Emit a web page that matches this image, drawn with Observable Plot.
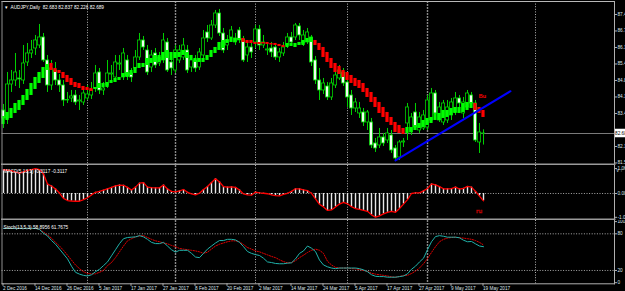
<!DOCTYPE html>
<html><head><meta charset="utf-8">
<script src="https://cdn.jsdelivr.net/npm/d3@7"></script>
<script src="https://cdn.jsdelivr.net/npm/@observablehq/plot@0.6"></script>
<style>
html,body{margin:0;padding:0;background:#000;}
#chart{position:relative;width:625px;height:291px;background:#000;overflow:hidden;}
#chart svg{display:block;}
</style></head><body><div id="chart"></div>
<script>
// ---- Data (AUDJPY Daily, 2 Dec 2016 .. 19 May 2017) ----
const openP = [83.61,83.29,84.65,84.81,84.89,84.81,85.53,85.89,86.09,86.21,
86.53,85.61,84.61,85.21,84.81,84.61,84.03,84.09,84.21,83.97,
83.93,84.09,84.21,84.49,85.13,84.41,84.61,85.05,84.93,85.45,
84.93,85.61,85.09,85.29,85.73,86.41,86.01,85.33,85.89,85.49,
85.61,86.33,85.53,85.21,85.61,85.73,86.01,85.33,85.61,85.33,
85.81,86.73,86.49,87.01,87.49,86.69,86.21,86.53,86.33,86.81,
86.45,85.81,86.13,86.33,86.85,86.21,86.01,86.09,86.13,85.73,
85.89,86.21,86.53,86.53,86.97,86.29,86.33,86.53,85.61,84.81,
84.41,84.57,84.13,84.61,84.89,85.13,84.73,84.21,83.69,83.49,
83.53,83.13,83.13,82.29,82.21,82.53,82.41,82.61,82.09,81.73,
82.33,83.09,82.73,83.53,82.81,82.89,82.93,83.21,84.29,83.21,
83.13,83.21,83.41,83.53,84.09,83.49,83.73,84.21,83.89,82.33,
82.683];
const highP = [83.85,85.13,85.21,85.89,85.21,86.21,86.29,86.41,86.61,87.05,
86.69,85.81,85.61,85.53,85.05,84.81,84.33,84.41,84.41,84.21,
84.49,84.61,84.73,85.41,85.29,84.73,85.61,85.41,85.81,85.81,
86.09,85.81,85.29,86.01,86.69,86.57,86.21,86.01,86.09,85.93,
86.69,86.49,85.81,86.21,86.21,86.49,86.21,85.81,85.81,86.09,
86.81,87.01,87.21,87.61,87.65,86.89,86.61,86.97,86.69,86.93,
86.57,86.33,86.29,87.01,87.01,86.61,86.25,86.33,86.29,86.09,
86.33,86.69,86.73,87.09,87.09,86.81,86.89,86.61,85.77,85.29,
84.89,84.73,84.89,85.21,85.41,85.29,84.89,84.41,84.09,83.93,
83.69,83.61,83.29,82.49,82.89,82.69,82.89,82.81,82.21,82.41,
82.49,83.89,83.49,83.89,83.53,83.61,84.21,84.49,84.41,83.93,
84.01,84.01,84.09,84.33,84.21,84.13,84.41,84.33,84.01,83.09,
82.837];
const lowP = [82.89,83.05,84.33,84.57,84.49,84.65,85.37,85.69,85.81,86.09,
85.53,84.33,84.41,84.61,84.33,83.77,83.89,83.93,83.81,83.61,
83.81,84.01,84.05,84.33,84.25,84.21,84.49,84.81,84.81,85.21,
84.81,84.81,84.73,85.13,85.61,86.01,85.01,85.13,85.29,85.37,
85.49,85.13,85.01,85.09,85.49,85.61,85.09,85.13,85.13,85.21,
85.61,86.33,86.41,86.89,86.57,85.89,86.01,86.33,86.21,86.29,
85.53,85.53,85.69,86.09,86.01,86.09,85.81,85.73,85.61,85.53,
85.77,86.09,86.21,86.41,86.41,86.17,86.25,85.37,84.65,84.01,
84.25,84.01,84.01,84.49,84.81,84.57,83.73,83.41,83.53,83.29,
82.97,82.81,82.09,81.93,82.09,82.17,82.29,81.89,81.61,81.61,
82.13,82.41,82.61,82.81,82.69,82.81,82.81,83.13,83.37,83.13,
83.01,83.09,83.21,83.41,83.69,83.29,83.61,83.77,82.33,81.89,
82.226];
const closeP = [83.29,84.65,84.81,85.13,84.85,85.49,85.89,86.01,86.41,86.53,
85.61,84.61,85.29,84.81,84.61,84.01,84.01,84.17,83.93,84.01,
84.29,84.25,84.41,85.09,84.41,84.49,85.09,85.09,85.53,85.49,
85.89,84.97,84.93,85.73,86.41,86.13,85.13,85.81,85.41,85.73,
86.41,85.21,85.29,86.01,86.01,86.21,85.21,85.61,85.29,85.93,
86.49,86.49,87.01,87.49,86.69,86.01,86.41,86.81,86.49,86.41,
85.61,86.13,85.93,86.85,86.21,86.33,86.05,85.93,85.73,85.93,
86.13,86.53,86.33,87.01,86.61,86.61,86.73,85.53,84.81,84.41,
84.69,84.13,84.69,85.01,85.21,84.69,84.13,83.69,83.93,83.69,
83.13,83.53,82.21,82.09,82.53,82.29,82.69,82.01,81.69,82.33,
82.37,83.73,83.33,82.93,83.33,83.41,84.01,84.29,83.49,83.73,
83.89,83.73,83.93,84.09,83.89,83.93,84.29,83.89,82.41,82.73,
82.689];
// Heiken Ashi overlay bodies (open / close)
const haOpen = [83.05,83.21,83.29,83.49,83.61,83.81,84.01,84.21,84.45,84.69,
84.89,85.21,85.49,85.29,85.21,85.13,85.01,84.89,84.73,84.69,
84.57,84.53,84.49,84.45,84.49,84.53,84.53,84.69,84.73,84.81,
84.93,84.93,85.01,85.09,85.29,85.33,85.41,85.49,85.53,85.53,
85.61,85.69,85.61,85.69,85.73,85.81,85.69,85.61,85.53,85.53,
85.53,85.61,85.73,85.89,86.01,86.09,86.29,86.33,86.33,86.41,
86.49,86.41,86.41,86.33,86.33,86.33,86.33,86.29,86.29,86.25,
86.21,86.13,86.17,86.13,86.21,86.21,86.33,86.33,86.41,86.29,
86.13,85.93,85.69,85.49,85.37,85.21,85.13,85.01,84.89,84.81,
84.69,84.49,84.33,84.13,83.93,83.73,83.53,83.33,83.13,83.01,
82.89,82.69,82.73,82.81,82.89,82.93,83.01,83.09,83.21,83.21,
83.29,83.33,83.41,83.49,83.49,83.53,83.61,83.69,83.89,83.73,
83.61];
const haClose = [83.37,83.53,83.69,83.89,84.01,84.21,84.45,84.69,84.93,85.13,
85.33,85.45,85.21,85.13,85.09,84.89,84.73,84.61,84.53,84.49,
84.41,84.41,84.37,84.53,84.69,84.69,84.73,84.81,84.89,84.93,
85.09,85.13,85.21,85.33,85.49,85.49,85.69,85.69,85.81,85.81,
85.93,86.01,85.93,85.93,85.93,86.01,85.93,85.81,85.69,85.69,
85.69,85.81,86.01,86.13,86.33,86.41,86.45,86.53,86.49,86.49,
86.33,86.29,86.29,86.25,86.25,86.27,86.25,86.23,86.21,86.17,
86.13,86.29,86.29,86.29,86.33,86.41,86.49,86.53,86.21,86.01,
85.73,85.53,85.29,85.13,85.05,84.93,84.81,84.69,84.57,84.49,
84.33,84.13,83.93,83.73,83.49,83.33,83.13,83.01,82.73,82.69,
82.65,82.93,82.93,83.01,83.09,83.21,83.29,83.33,83.49,83.49,
83.61,83.61,83.69,83.73,83.73,83.89,83.93,83.93,83.61,83.49,
83.33];
const macdValues = [1.01,0.99,0.97,0.91,0.87,0.92,0.98,1.02,1.06,1.02,
0.83,0.40,0.32,0.19,0.02,-0.21,-0.30,-0.32,-0.33,-0.33,
-0.26,-0.18,-0.06,0.05,0.09,0.14,0.20,0.26,0.32,0.36,
0.35,0.26,0.15,0.27,0.44,0.46,0.27,0.25,0.24,0.24,
0.36,0.19,0.09,0.07,0.11,0.17,0.05,-0.02,-0.06,0.01,
0.17,0.30,0.47,0.63,0.49,0.29,0.27,0.28,0.26,0.15,
-0.02,-0.06,-0.07,0.06,0.03,0.01,-0.01,-0.06,-0.09,-0.10,
-0.04,0.01,0.09,0.20,0.20,0.15,0.12,0.01,-0.23,-0.46,
-0.57,-0.72,-0.70,-0.57,-0.45,-0.38,-0.44,-0.56,-0.64,-0.68,
-0.72,-0.76,-0.91,-1.01,-0.95,-0.87,-0.80,-0.76,-0.80,-0.64,
-0.45,-0.26,0.00,0.03,0.03,0.11,0.21,0.41,0.37,0.29,
0.20,0.20,0.21,0.27,0.19,0.22,0.30,0.27,0.09,-0.11,
-0.3117];
const stochMain = [89,89,89,89,89,89,89,89,89,87,
81,76.5,69,63,55,47,39,27,17,14,
12,11,13,18,22,28,34,44,54,64,
72,74,74.5,75,77,75,71,66,64,64,
66,60,54,50,53,53,53,48,42,41,
48,55,60,65,69,69,71,71,70,66,
59,51,48,46,44.5,40,34,33,31.5,31,
31,32,32.5,39,48,52,60,56.5,51,37,
29,26,24,23,24,24,24,24,24,23,
21,18,13,10.5,10,10,9,9,9,10,
11,14.5,22,27,34,40,54,67,75.5,77,
76,74.5,74.5,74.5,73.5,69.5,67,67.5,63.6,60,
58.8956];
const stochSignal = [89,89,89,89,89,89,89,89,89,87,
83,78,73,66,60,53,45,37,29,23,
18,15,14.5,14.5,17,20,28,33,41,50.5,
60,68.5,72,75,76.5,77,74,71,68.5,67,
65,63.6,61,59,56,55,54,53,52,50.5,
48,50,55,60,63,65,67,68.5,68.5,67,
62.5,57.5,55,52,50.5,48,45.5,43,41,37.5,
34.5,32.5,33,36,41,45,49.5,53,55,53,
48,35,29,25,24,24,24,23,22.7,21.6,
20,18.3,15.5,14,13,12,11,9.5,9,10,
12,12,15,19,24,31,39.5,49.5,59,67,
71,73,74,74.5,73.5,73,72,71,69,66,
61.7675];
const dateIdx = [0,8,16,24,32,40,48,56,64,72,80,88,96,104,112,120];
const dateLabels = ["2 Dec 2016","14 Dec 2016","26 Dec 2016","5 Jan 2017","17 Jan 2017","27 Jan 2017","8 Feb 2017","20 Feb 2017","2 Mar 2017","14 Mar 2017","24 Mar 2017","5 Apr 2017","17 Apr 2017","27 Apr 2017","9 May 2017","19 May 2017"];
const monthStartsLight = [21,63,86,133];
const monthStartsDark = [43,106];
const priceTicks = [87.450,86.790,86.130,85.470,84.810,84.150,83.490,82.170,81.510];
const macdTicks = [1.0616,0,-1.0129];
const macdTickLabels = ["1.0616","0.0000","-1.0129"];
const stochTicks = [100,80,20,0];
const stochLevels = [80,20];
const lastPrice = 82.689;
const trendIdx = [98,126.75];
const trendPrice = [81.61,84.38];
const signalIdx = [119.75];
const signalPrice = [84.17];
const signalText = ["Bu"];
const macdSignalIdx = [118.9];
const macdSignalValue = [-0.74];
const macdSignalText = ["ru"];
const headerText = "AUDJPY,Daily  82.683 82.837 82.226 82.689";
const macdText = "MACD(5,13,1) -0.3117 -0.3117";
const stochText = "Stoch(13,5,3) 58.8956 61.7675";

// ---- Build ----
const N = closeP.length;
const bars = d3.range(N).map(i => ({i, o:openP[i], h:highP[i], l:lowP[i], c:closeP[i], ho:haOpen[i], hc:haClose[i]}));
const trend = trendIdx.map((x,k)=>({i:x, p:trendPrice[k]}));
const signals = signalIdx.map((x,k)=>({i:x, p:signalPrice[k], t:signalText[k]}));
const macdSignals = macdSignalIdx.map((x,k)=>({i:x, v:macdSignalValue[k], t:macdSignalText[k]}));
const font = "'Liberation Sans', Arial, sans-serif";
const txt = "#dde4ec";
const FS = 4.7;
const style = {background:"transparent", color:txt, fontFamily:font, fontSize:FS+"px"};
const X = () => ({type:"linear", domain:[0,152.75], range:[3,614], axis:null});
const W = 0.4;
const gridMarks = () => [
  Plot.ruleX(monthStartsLight, {stroke:"#c8c8c8", strokeDasharray:"1,1.6", strokeWidth:0.9}),
  Plot.ruleX(monthStartsDark, {stroke:"#8a8a8a", strokeDasharray:"2,1", strokeWidth:1.4})
];
const dateMap = new Map(dateIdx.map((d,k)=>[d, dateLabels[k]]));
const macdMap = new Map(macdTicks.map((d,k)=>[d, macdTickLabels[k]]));

const mainPlot = Plot.plot({
  width:625, height:165, marginTop:1, marginRight:11, marginBottom:1, marginLeft:1.5,
  style, x:X(),
  y:{domain:[81.449,87.969], range:[164,1], axis:null},
  marks:[
    ...gridMarks(),
    Plot.ruleY([lastPrice], {stroke:"#7a7a7a", strokeWidth:1}),
    Plot.ruleX(bars, {x:"i", y1:"l", y2:"h", stroke:"#00d000", strokeWidth:1}),
    Plot.rect(bars, {x1:d=>d.i-W, x2:d=>d.i+W, y1:"o", y2:"c", fill:d=>d.c>=d.o?"#000000":"#f0fff0", stroke:"#00d000", strokeWidth:0.8}),
    Plot.rect(bars, {x1:d=>d.i-W, x2:d=>d.i+W, y1:"ho", y2:"hc", fill:d=>d.hc>=d.ho?"#00ff00":"#ff0000"}),
    Plot.line(trend, {x:"i", y:"p", stroke:"#0000ff", strokeWidth:2}),
    Plot.text(signals, {x:"i", y:"p", text:"t", fill:"#ff0000", fontSize:5.5, fontWeight:"bold"}),
    Plot.rect([lastPrice], {x1:152.85, x2:156, y1:d=>d-0.17, y2:d=>d+0.17, fill:"#ffffff"}),
    Plot.text([lastPrice], {x:152.9, y:d=>d, text:d=>d.toFixed(3), textAnchor:"start", fill:"#000", fontSize:FS}),
    Plot.axisY(priceTicks, {anchor:"right", tickSize:2, tickPadding:1, tickFormat:d=>d.toFixed(3), fontSize:FS, fill:txt, stroke:"#b0b0b0"}),
    Plot.text(["\u25BE"], {frameAnchor:"top-left", dx:2.5, dy:4, fill:"#fff", fontSize:5, textAnchor:"start"}),
    Plot.text([headerText], {frameAnchor:"top-left", dx:8.5, dy:4, fill:"#fff", fontSize:FS, textAnchor:"start"}),
    Plot.frame({anchor:"top", stroke:"#b8b8b8"}),
    Plot.frame({anchor:"left", stroke:"#909090"}),
    Plot.frame({anchor:"right", stroke:"#b0b0b0"}),
    Plot.frame({anchor:"bottom", stroke:"#9a9a9a", strokeWidth:2})
  ]
});

const macdData = macdValues.map((v,i)=>({i,v}));
const macdPlot = Plot.plot({
  width:625, height:55, marginTop:0, marginRight:11, marginBottom:1, marginLeft:1.5,
  style, x:X(),
  y:{domain:[-1.064,1.149], range:[53,1], axis:null},
  marks:[
    ...gridMarks(),
    Plot.ruleY([0], {stroke:"#aaaaaa", strokeDasharray:"1,1.6"}),
    Plot.ruleX(macdData, {x:"i", y1:()=>0, y2:"v", stroke:"#e8e8e8", strokeWidth:1.4}),
    Plot.line(macdData, {x:"i", y:"v", stroke:"#ff0000", strokeWidth:1.3}),
    Plot.text(macdSignals, {x:"i", y:"v", text:"t", fill:"none", stroke:"#d00000", strokeWidth:0.5, fontSize:6, fontWeight:"bold"}),
    Plot.axisY(macdTicks, {anchor:"right", tickSize:2, tickPadding:1, tickFormat:d=>macdMap.get(d), fontSize:FS, fill:txt, stroke:"#b0b0b0"}),
    Plot.text([macdText], {frameAnchor:"top-left", dx:1.5, dy:4.5, fill:"#fff", fontSize:FS, textAnchor:"start"}),
    Plot.frame({anchor:"left", stroke:"#909090"}),
    Plot.frame({anchor:"right", stroke:"#b0b0b0"}),
    Plot.frame({anchor:"bottom", stroke:"#9a9a9a", strokeWidth:2})
  ]
});

const stochPlot = Plot.plot({
  width:625, height:71, marginTop:0, marginRight:11, marginBottom:7.7, marginLeft:1.5,
  style, x:X(),
  y:{domain:[0,100], range:[62.2,1.1], axis:null},
  marks:[
    ...gridMarks(),
    Plot.ruleY(stochLevels, {stroke:"#aaaaaa", strokeDasharray:"1,1.6"}),
    Plot.line(stochSignal, {x:(d,i)=>i, y:d=>d, stroke:"#e00000", strokeWidth:1, strokeDasharray:"1.2,1.4"}),
    Plot.line(stochMain, {x:(d,i)=>i, y:d=>d, stroke:"#20b2aa", strokeWidth:1}),
    Plot.axisY(stochTicks, {anchor:"right", tickSize:2, tickPadding:1, tickFormat:d=>String(d), fontSize:FS, fill:txt, stroke:"#b0b0b0"}),
    Plot.axisX(dateIdx, {anchor:"bottom", tickSize:2.5, tickPadding:0.5, tickFormat:d=>dateMap.get(d), textAnchor:"start", dx:-0.5, fontSize:FS, fill:txt, stroke:"#b0b0b0"}),
    Plot.text([stochText], {frameAnchor:"top-left", dx:1.5, dy:5, fill:"#fff", fontSize:FS, textAnchor:"start"}),
    Plot.frame({anchor:"left", stroke:"#909090"}),
    Plot.frame({anchor:"right", stroke:"#b0b0b0"}),
    Plot.frame({anchor:"bottom", stroke:"#b0b0b0"})
  ]
});

const root = document.getElementById("chart");
root.append(mainPlot, macdPlot, stochPlot);
</script></body></html>
